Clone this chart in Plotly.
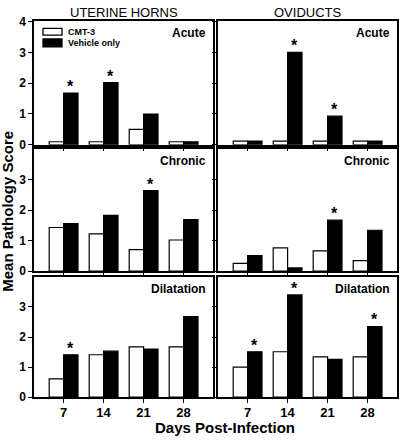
import plotly.graph_objects as go

W, H = 400, 444
FONT = "Liberation Sans, Arial, sans-serif"

days = ["7", "14", "21", "28"]
col_titles = ["UTERINE HORNS", "OVIDUCTS"]
row_labels = ["Acute", "Chronic", "Dilatation"]
series_names = ["CMT-3", "Vehicle only"]

# values [row][col]
uh_acute_cmt = [0.10, 0.10, 0.50, 0.10]
uh_acute_veh = [1.68, 2.02, 1.00, 0.10]
ov_acute_cmt = [0.12, 0.12, 0.12, 0.12]
ov_acute_veh = [0.12, 3.00, 0.93, 0.12]
uh_chronic_cmt = [1.43, 1.22, 0.70, 1.02]
uh_chronic_veh = [1.56, 1.83, 2.64, 1.69]
ov_chronic_cmt = [0.25, 0.76, 0.66, 0.34]
ov_chronic_veh = [0.51, 0.10, 1.67, 1.34]
uh_dil_cmt = [0.61, 1.41, 1.67, 1.67]
uh_dil_veh = [1.41, 1.53, 1.60, 2.68]
ov_dil_cmt = [1.00, 1.51, 1.34, 1.34]
ov_dil_veh = [1.51, 3.40, 1.26, 2.35]

# significance markers (on Vehicle bars)
uh_acute_sig = [1, 1, 0, 0]
ov_acute_sig = [0, 1, 1, 0]
uh_chronic_sig = [0, 0, 1, 0]
ov_chronic_sig = [0, 0, 1, 0]
uh_dil_sig = [1, 0, 0, 0]
ov_dil_sig = [1, 1, 0, 1]

panels = [
    [(uh_acute_cmt, uh_acute_veh, uh_acute_sig), (ov_acute_cmt, ov_acute_veh, ov_acute_sig)],
    [(uh_chronic_cmt, uh_chronic_veh, uh_chronic_sig), (ov_chronic_cmt, ov_chronic_veh, ov_chronic_sig)],
    [(uh_dil_cmt, uh_dil_veh, uh_dil_sig), (ov_dil_cmt, ov_dil_veh, ov_dil_sig)],
]

# layout in pixels
xdom_px = [(34, 213), (218, 397)]
ydom_px = [(15, 143), (147, 273), (279, 403)]
yranges = [[0, 4.03], [0, 4.02], [0, 4.0]]
xrange_ = [-0.74, 3.735]

def px_x(p):
    return p / W

def px_y(p):
    return 1 - p / H

fig = go.Figure()
xpos = list(range(len(days)))
annotations = []
layout = {}

for r in range(3):
    for c in range(2):
        idx = r * 2 + c + 1
        xa = "x" if idx == 1 else f"x{idx}"
        ya = "y" if idx == 1 else f"y{idx}"
        cmt, veh, sig = panels[r][c]
        fig.add_trace(go.Bar(x=xpos, y=cmt, name=series_names[0], xaxis=xa, yaxis=ya,
                             marker=dict(color="white", line=dict(color="black", width=1.2)),
                             showlegend=False, offsetgroup="a"))
        fig.add_trace(go.Bar(x=xpos, y=veh, name=series_names[1], xaxis=xa, yaxis=ya,
                             marker=dict(color="black", line=dict(color="black", width=1.2)),
                             showlegend=False, offsetgroup="b"))
        for i, s in enumerate(sig):
            if s:
                annotations.append(dict(x=i + 0.18, y=veh[i], xref=xa, yref=ya, text="*",
                                        showarrow=False, yanchor="bottom", yshift=-4,
                                        font=dict(family=FONT, size=16, color="black", weight="bold")))
        xd = [px_x(xdom_px[c][0]), px_x(xdom_px[c][1])]
        yd = [px_y(ydom_px[r][1]), px_y(ydom_px[r][0])]
        xkey = "xaxis" if idx == 1 else f"xaxis{idx}"
        ykey = "yaxis" if idx == 1 else f"yaxis{idx}"
        layout[xkey] = dict(domain=xd, anchor=ya, range=xrange_, tickvals=xpos, ticktext=days,
                            showticklabels=(r == 2), ticks="outside", ticklen=4, tickwidth=1.2,
                            tickcolor="black", showline=True, linecolor="black", linewidth=1.5,
                            mirror=True, showgrid=False, zeroline=False, fixedrange=True,
                            ticklabelstandoff=-2,
                            tickfont=dict(family=FONT, size=13, color="black", weight="bold"))
        tv = [0, 1, 2, 3, 4] if r == 0 else [0, 1, 2, 3]
        layout[ykey] = dict(domain=yd, anchor=xa, range=yranges[r], tickvals=tv,
                            showticklabels=(c == 0), ticks="outside", ticklen=4, tickwidth=1.2,
                            tickcolor="black", showline=True, linecolor="black", linewidth=1.5,
                            mirror=True, showgrid=False, zeroline=False, fixedrange=True,
                            tickfont=dict(family=FONT, size=12, color="black", weight="bold"))
        annotations.append(dict(x=px_x(xdom_px[c][1] - 5), y=px_y(ydom_px[r][0] + 13),
                                xref="paper", yref="paper", text=row_labels[r], showarrow=False,
                                xanchor="right", yanchor="middle",
                                font=dict(family=FONT, size=12, color="black", weight="bold")))

for c in range(2):
    annotations.append(dict(x=px_x((xdom_px[c][0] + xdom_px[c][1]) / 2), y=px_y(7),
                            xref="paper", yref="paper", text=col_titles[c], showarrow=False,
                            xanchor="center", yanchor="middle",
                            font=dict(family=FONT, size=13, color="black")))

annotations.append(dict(x=px_x(8), y=px_y(212), xref="paper", yref="paper",
                        text="Mean Pathology Score", textangle=-90, showarrow=False,
                        xanchor="center", yanchor="middle",
                        font=dict(family=FONT, size=15, color="black", weight="bold")))
annotations.append(dict(x=px_x(225), y=px_y(444), xref="paper", yref="paper",
                        text="Days Post-Infection", showarrow=False,
                        xanchor="center", yanchor="bottom", borderpad=0,
                        font=dict(family=FONT, size=15, color="black", weight="bold")))

# legend (drawn in paper coordinates)
shapes = []
leg_rows = [(23, 30, "white"), (34, 42, "black")]
for (y0, y1, col), name in zip(leg_rows, series_names):
    shapes.append(dict(type="rect", xref="paper", yref="paper",
                       x0=px_x(43), x1=px_x(62), y0=px_y(y1), y1=px_y(y0),
                       fillcolor=col, line=dict(color="black", width=1.3)))
    annotations.append(dict(x=px_x(66), y=px_y((y0 + y1) / 2), xref="paper", yref="paper",
                            text=name, showarrow=False, xanchor="left", yanchor="middle",
                            font=dict(family=FONT, size=9, color="black", weight="bold")))

fig.update_layout(width=W, height=H, margin=dict(l=0, r=0, t=0, b=0),
                  plot_bgcolor="white", paper_bgcolor="white",
                  barmode="group", bargap=0.28, bargroupgap=0,
                  annotations=annotations, shapes=shapes, **layout)

fig.write_html("out.html", config={"displayModeBar": False},
               post_script="document.body.style.margin='0';document.body.style.overflow='hidden';")
